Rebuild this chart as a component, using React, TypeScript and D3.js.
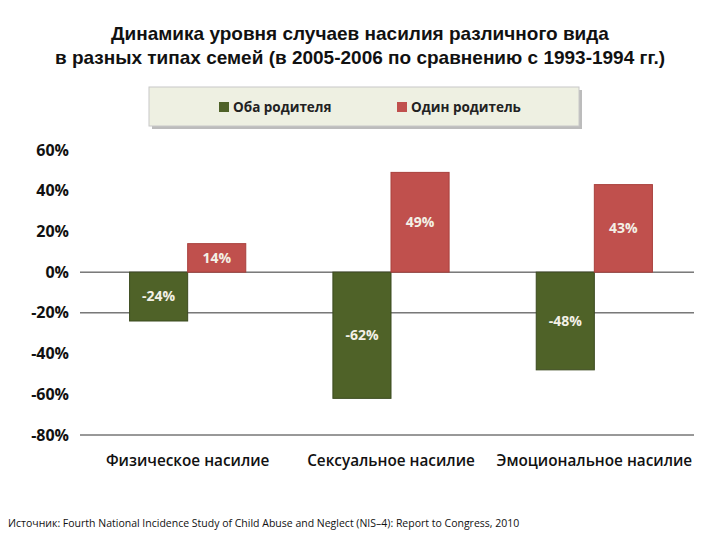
import React from "react";
import * as d3 from "d3";

const categories = ["Физическое насилие", "Сексуальное насилие", "Эмоциональное насилие"];
const seriesNames = ["Оба родителя", "Один родитель"];
const bothParents = [-24, -62, -48];
const oneParent = [14, 49, 43];
const yTicks = [60, 40, 20, 0, -20, -40, -60, -80];
const gridValues = [0, -20, -80];
const colors = ["#4f6228", "#c0504d"];
const strokes = ["#3b4a1e", "#a9403d"];

export default function App() {
  const W = 720, H = 540;
  const x = d3.scaleBand<string>().domain(categories).range([86, 696]);
  const xs = d3.scaleBand<string>().domain(seriesNames).range([0, x.bandwidth()]).paddingInner(0).paddingOuter(0.75);
  const y = d3.scaleLinear().domain([-80, 60]).range([435, 150]);
  const series = [bothParents, oneParent];
  const font = "'Open Sans', 'Liberation Sans', sans-serif";

  return (
    <svg width={W} height={H} style={{ position: "absolute", left: 0, top: 0, background: "#fff" }}>
      <rect x={0} y={0} width={W} height={H} fill="#fff" />
      <text x={360} y={40} textAnchor="middle" fontFamily="'Liberation Sans', Arial, sans-serif" fontWeight="bold" fontSize={19} fill="#111">
        Динамика уровня случаев насилия различного вида
      </text>
      <text x={360} y={64} textAnchor="middle" fontFamily="'Liberation Sans', Arial, sans-serif" fontWeight="bold" fontSize={19} fill="#111">
        в разных типах семей (в 2005-2006 по сравнению с 1993-1994 гг.)
      </text>

      {/* legend */}
      <rect x={152} y={90} width={430} height={39} fill="#bcbcbc" />
      <rect x={149} y={87} width={430} height={39} fill="#eef0e2" stroke="#c8c8c8" strokeWidth={1} />
      {seriesNames.map((s, i) => (
        <g key={s} transform={`translate(${i === 0 ? 219 : 397},107)`}>
          <rect x={0} y={-5} width={10} height={10} fill={colors[i]} />
          <text x={14} y={0} dy="0.35em" fontFamily={font} fontWeight="bold" fontSize={13.5} fill="#222">{s}</text>
        </g>
      ))}

      {/* gridlines */}
      {gridValues.map(v => (
        <line key={v} x1={80} x2={694} y1={y(v)} y2={y(v)} stroke="#333" strokeWidth={1} />
      ))}

      {/* y tick labels */}
      {yTicks.map(v => (
        <text key={v} x={69} y={y(v)} dy="0.35em" textAnchor="end" fontFamily={font} fontWeight="bold" fontSize={16} fill="#111">
          {`${v}%`}
        </text>
      ))}

      {/* bars */}
      {categories.map((c, ci) => (
        <g key={c}>
          {series.map((vals, si) => {
            const v = vals[ci];
            const bx = (x(c) ?? 0) + (xs(seriesNames[si]) ?? 0);
            const y0 = y(Math.max(0, v));
            const y1 = y(Math.min(0, v));
            return (
              <g key={si}>
                <rect x={bx} y={y0} width={xs.bandwidth()} height={y1 - y0} fill={colors[si]} stroke={strokes[si]} strokeWidth={1} />
                <text x={bx + xs.bandwidth() / 2} y={(y0 + y1) / 2} dy="0.35em" textAnchor="middle" fontFamily={font} fontWeight="bold" fontSize={14} fill="#f3f0e6">
                  {`${v}%`}
                </text>
              </g>
            );
          })}
          <text x={(x(c) ?? 0) + x.bandwidth() / 2} y={466} textAnchor="middle" fontFamily={font} fontWeight={600} fontSize={15.3} fill="#111">
            {c}
          </text>
        </g>
      ))}

      <text x={8} y={527} fontFamily={font} fontSize={10.5} fill="#111">
        Источник: Fourth National Incidence Study of Child Abuse and Neglect (NIS–4): Report to Congress, 2010
      </text>
    </svg>
  );
}
